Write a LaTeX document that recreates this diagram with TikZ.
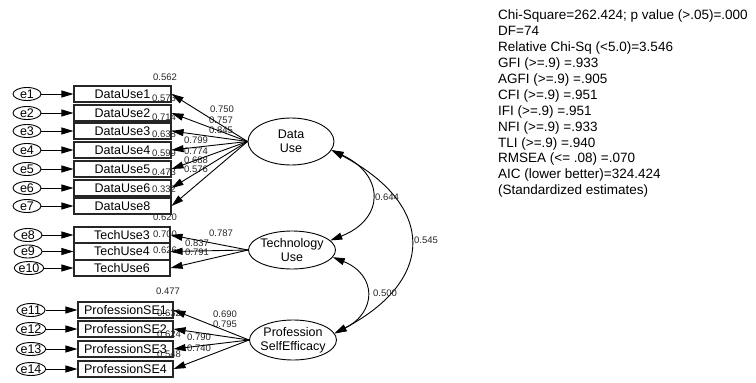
\documentclass[tikz,border=0pt]{standalone}
\usepackage{fontspec}
\setmainfont{Liberation Sans}
\usetikzlibrary{shapes.geometric,arrows.meta}
\begin{document}
\begin{tikzpicture}[x=1pt,y=-1pt,
 obs/.style={draw=black!85, line width=1.1pt, minimum height=16pt, inner sep=0pt, font=\fontsize{12.5}{14}\selectfont},
 err/.style={ellipse, draw, line width=0.9pt, minimum width=28pt, minimum height=13pt, inner sep=0pt, font=\fontsize{12.5}{14}\selectfont},
 lat/.style={ellipse, draw, line width=0.9pt, inner xsep=-4pt, inner ysep=-4pt, align=center, font=\fontsize{12.5}{14}\selectfont},
 num/.style={font=\fontsize{9.5}{11}\selectfont, inner sep=0pt, text=black!85},
 stat/.style={font=\fontsize{13.5}{15.9}\selectfont, inner sep=0pt, anchor=base west},
 arr/.style={-{Triangle[length=12pt,width=7pt]}, line width=0.9pt},
 cov/.style={{Triangle[length=12pt,width=7pt]}-{Triangle[length=12pt,width=7pt]}, line width=0.9pt},
]
\useasboundingbox (0,0) rectangle (756,383);

% latent variables
\node[lat, minimum width=86pt, minimum height=47pt] (du) at (291,141.5) {Data\\Use};
\node[lat, minimum width=87pt, minimum height=38pt] (tu) at (292,250) {Technology\\Use};
\node[lat, minimum width=87pt, minimum height=40pt] (ps) at (293,340) {Profession\\SelfEfficacy};

% observed: Data Use
\node[obs, minimum width=97pt] (d1) at (122.5,94) {DataUse1};
\node[obs, minimum width=97pt] (d2) at (122.5,113) {DataUse2};
\node[obs, minimum width=97pt] (d3) at (122.5,131) {DataUse3};
\node[obs, minimum width=97pt] (d4) at (122.5,150) {DataUse4};
\node[obs, minimum width=97pt] (d5) at (122.5,169) {DataUse5};
\node[obs, minimum width=97pt] (d6) at (122.5,188) {DataUse6};
\node[obs, minimum width=97pt] (d7) at (122.5,206) {DataUse8};
% observed: Technology Use
\node[obs, minimum width=96pt] (t1) at (122,235) {TechUse3};
\node[obs, minimum width=96pt] (t2) at (122,251.5) {TechUse4};
\node[obs, minimum width=96pt] (t3) at (122,268) {TechUse6};
% observed: Profession SelfEfficacy
\node[obs, minimum width=95pt] (p1) at (125.5,310) {ProfessionSE1};
\node[obs, minimum width=95pt] (p2) at (125.5,329) {ProfessionSE2};
\node[obs, minimum width=95pt] (p3) at (125.5,349) {ProfessionSE3};
\node[obs, minimum width=95pt] (p4) at (125.5,369) {ProfessionSE4};

% errors
\node[err] (e1) at (27,94) {e1};
\node[err] (e2) at (27,113) {e2};
\node[err] (e3) at (27,131) {e3};
\node[err] (e4) at (27,150) {e4};
\node[err] (e5) at (27,169) {e5};
\node[err] (e6) at (27,188) {e6};
\node[err] (e7) at (27,206) {e7};
\node[err] (e8) at (28,235) {e8};
\node[err] (e9) at (28,251.5) {e9};
\node[err] (e10) at (29,268) {e10};
\node[err] (e11) at (31,310) {e11};
\node[err] (e12) at (31,329) {e12};
\node[err] (e13) at (31,349) {e13};
\node[err] (e14) at (31,369) {e14};

\foreach \e/\b in {e1/d1,e2/d2,e3/d3,e4/d4,e5/d5,e6/d6,e7/d7,e8/t1,e9/t2,e10/t3,e11/p1,e12/p2,e13/p3,e14/p4}
  \draw[arr] (\e.east) -- (\b.west);

% squared multiple correlations
\node[num] (r1) at (165,77) {0.562};
\node[num] (r2) at (164,98) {0.573};
\node[num] (r3) at (164,117) {0.714};
\node[num] (r4) at (164,134) {0.638};
\node[num] (r5) at (164,153) {0.599};
\node[num] (r6) at (164,172) {0.473};
\node[num] (r7) at (164,189) {0.332};
\node[num] (r8) at (165,217) {0.620};
\node[num] (r9) at (165,234) {0.700};
\node[num] (r10) at (165,250) {0.626};
\node[num] (r11) at (168,291) {0.477};
\node[num] (r12) at (169,313) {0.632};
\node[num] (r13) at (169,334) {0.624};
\node[num] (r14) at (169,354) {0.548};

% loadings
\node[num] (l1) at (222,109) {0.750};
\node[num] (l2) at (221,120) {0.757};
\node[num] (l3) at (221,130) {0.845};
\node[num] (l4) at (196,140) {0.799};
\node[num] (l5) at (196,151) {0.774};
\node[num] (l6) at (196,160.5) {0.688};
\node[num] (l7) at (196,169.5) {0.576};
\node[num] (l8) at (221,233) {0.787};
\node[num] (l9) at (197,243) {0.837};
\node[num] (l10) at (197,252) {0.791};
\node[num] (l11) at (225,314) {0.690};
\node[num] (l12) at (225,324) {0.795};
\node[num] (l13) at (199,337) {0.790};
\node[num] (l14) at (199,348) {0.740};

\foreach \b in {d1,d2,d3,d4,d5,d6,d7} \draw[arr] (du.west) -- (\b.east);
\foreach \b in {t1,t2,t3} \draw[arr] (tu.west) -- (\b.east);
\foreach \b in {p1,p2,p3,p4} \draw[arr] (ps.west) -- (\b.east);

% covariances
\draw[cov] (du.-12) .. controls (385,175) and (385,219) .. (tu.14);
\draw[cov] (tu.-10) .. controls (377,275) and (377,312) .. (ps.9);
\draw[cov] (du.-12) .. controls (436,205) and (436,280) .. (ps.9);
\node[num] (c1) at (387,197) {0.644};
\node[num] (c2) at (385,293) {0.500};
\node[num] (c3) at (426,240) {0.545};

% fit statistics
\node[stat] (s1) at (498,19.8) {Chi-Square=262.424; p value (>.05)=.000};
\node[stat] (s2) at (498,35.7) {DF=74};
\node[stat] (s3) at (498,51.6) {Relative Chi-Sq (<5.0)=3.546};
\node[stat] (s4) at (498,67.5) {GFI (>=.9) =.933};
\node[stat] (s5) at (498,83.4) {AGFI (>=.9) =.905};
\node[stat] (s6) at (498,99.3) {CFI (>=.9) =.951};
\node[stat] (s7) at (498,115.2) {IFI (>=.9) =.951};
\node[stat] (s8) at (498,131.1) {NFI (>=.9) =.933};
\node[stat] (s9) at (498,147.0) {TLI (>=.9) =.940};
\node[stat] (s10) at (498,162.9) {RMSEA (<= .08) =.070};
\node[stat] (s11) at (498,178.8) {AIC (lower better)=324.424};
\node[stat] (s12) at (498,194.7) {(Standardized estimates)};
\end{tikzpicture}
\end{document}
